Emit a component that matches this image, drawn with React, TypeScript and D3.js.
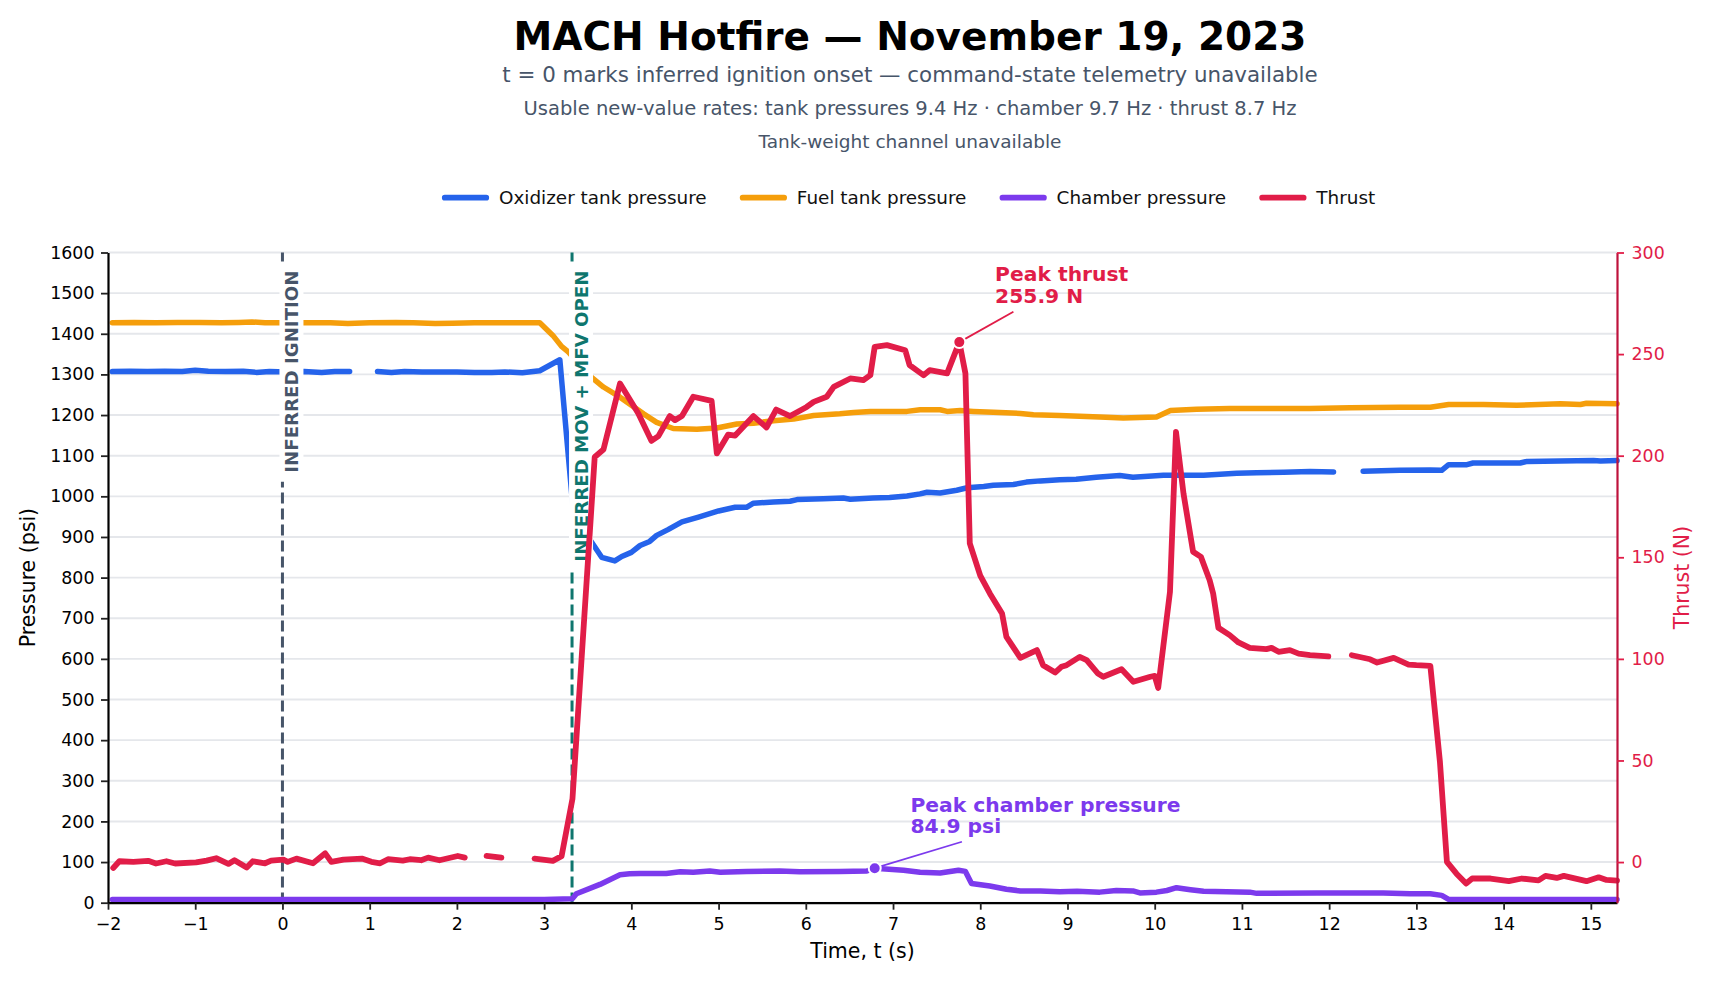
import React, { useEffect, useRef } from "react";
import * as d3 from "d3";

// Oxidizer tank pressure (psi), null = dropped sample
const oxTime = [
  -1.95, -1.75, -1.55, -1.35, -1.15, -1.0, -0.85, -0.65, -0.45, -0.3, -0.15, 0.05, 0.25, 0.45, 0.6, 0.77,
  0.93, 1.09, 1.25, 1.4, 1.6, 1.8, 2.0, 2.2, 2.4, 2.55, 2.75, 2.95, 3.18, 3.36, 3.52, 3.66, 3.81, 3.89,
  4.0, 4.1, 4.21, 4.29, 4.42, 4.58, 4.77, 5.0, 5.19, 5.32, 5.4, 5.63, 5.82, 5.9, 6.2, 6.43, 6.51, 6.77,
  6.96, 7.16, 7.31, 7.39, 7.54, 7.73, 7.85, 8.04, 8.15, 8.38, 8.53, 8.69, 8.91, 9.1, 9.33, 9.6, 9.75,
  10.1, 10.56, 10.94, 11.17, 11.48, 11.78, 12.05, 12.22, 12.39, 12.81, 13.16, 13.29, 13.37, 13.58, 13.65,
  14.19, 14.27, 15.03, 15.11, 15.3,
];
const oxPsi: (number | null)[] = [
  1307, 1308, 1307, 1308, 1307, 1310, 1308, 1307, 1308, 1305, 1307, 1306, 1307, 1305, 1307, 1307,
  null, 1307, 1305, 1307, 1306, 1306, 1306, 1305, 1305, 1306, 1304, 1309, 1336, 900, 895, 850, 841, 852,
  862, 879, 889, 904, 918, 937, 949, 964, 973, 973, 983, 986, 988, 992, 994, 996, 993, 996,
  997, 1001, 1006, 1010, 1008, 1015, 1021, 1024, 1027, 1029, 1035, 1038, 1041, 1042, 1047, 1051, 1047,
  1052, 1052, 1057, 1058, 1059, 1061, 1060, null, 1062, 1064, 1065, 1064, 1078, 1078, 1082,
  1082, 1086, 1088, 1087, 1088,
];

// Fuel tank pressure (psi)
const fuelTime = [
  -1.95, -1.7, -1.45, -1.2, -0.95, -0.7, -0.5, -0.35, -0.2, 0.0, 0.3, 0.55, 0.75, 1.0, 1.3, 1.5, 1.75,
  1.95, 2.2, 2.45, 2.7, 2.95, 3.1, 3.2, 3.28, 3.52, 3.68, 3.87, 3.98, 4.14, 4.29, 4.48, 4.75, 4.98, 5.21,
  5.4, 5.63, 5.86, 6.09, 6.39, 6.55, 6.74, 7.16, 7.31, 7.54, 7.62, 7.77, 7.92, 8.15, 8.46, 8.61, 8.91,
  9.37, 9.64, 10.02, 10.18, 10.48, 10.86, 11.25, 11.78, 12.24, 12.81, 13.16, 13.37, 13.77, 14.15, 14.65,
  14.88, 14.95, 15.3,
];
const fuelPsi = [
  1427, 1428, 1427, 1428, 1428, 1427, 1428, 1429, 1427, 1427, 1427, 1427, 1425, 1427, 1428, 1427, 1425,
  1426, 1427, 1427, 1427, 1427, 1396, 1369, 1355, 1297, 1269, 1244, 1227, 1203, 1182, 1167, 1165, 1168, 1178,
  1180, 1186, 1190, 1199, 1203, 1206, 1209, 1209, 1213, 1213, 1209, 1211, 1209, 1207, 1204, 1201, 1199,
  1195, 1193, 1195, 1211, 1214, 1216, 1216, 1216, 1218, 1219, 1219, 1226, 1226, 1224, 1228,
  1226, 1229, 1228,
];

// Chamber pressure (psi)
const chamberTime = [
  -1.95, -1.5, -1.0, -0.5, 0.0, 0.5, 1.0, 1.5, 2.0, 2.5, 3.0, 3.325, 3.37, 3.64, 3.87, 3.98, 4.1, 4.4,
  4.56, 4.71, 4.9, 5.02, 5.32, 5.7, 5.93, 6.39, 6.7, 6.79, 7.12, 7.31, 7.54, 7.75, 7.83, 7.9, 8.11, 8.3,
  8.46, 8.69, 8.91, 9.11, 9.37, 9.56, 9.75, 9.83, 10.02, 10.14, 10.25, 10.41, 10.56, 11.09, 11.17, 11.86,
  12.62, 12.93, 13.16, 13.29, 13.37, 13.77, 14.76, 15.3,
];
const chamberPsi = [
  8, 8, 8, 8, 8, 8, 8, 8, 8, 8, 8, 10, 22, 45, 69, 71, 72, 72,
  76, 75, 78, 75, 77, 78, 76, 77, 78, 84.9, 80, 75, 73, 80, 77, 47, 41, 33,
  29, 29, 27, 28, 26, 30, 29, 24, 26, 30, 37, 32, 28, 26, 23, 24,
  24, 22, 22, 18, 8, 8, 8, 8,
];

// Thrust (N)
const thrustTime = [
  -1.94, -1.87, -1.71, -1.54, -1.45, -1.33, -1.23, -0.99, -0.87, -0.76, -0.62, -0.55, -0.41, -0.34, -0.2,
  -0.13, 0.01, 0.06, 0.16, 0.35, 0.49, 0.56, 0.7, 0.91, 1.02, 1.12, 1.21, 1.38, 1.46, 1.59, 1.67, 1.8,
  2.01, 2.09, 2.22, 2.34, 2.51, 2.7, 2.89, 3.1, 3.2, 3.325, 3.58, 3.68, 3.87, 4.08, 4.23, 4.31, 4.44, 4.5,
  4.58, 4.71, 4.92, 4.98, 5.11, 5.19, 5.4, 5.55, 5.66, 5.82, 6.01, 6.09, 6.24, 6.32, 6.51, 6.66, 6.74,
  6.79, 6.93, 7.14, 7.19, 7.35, 7.42, 7.62, 7.76, 7.83, 7.88, 8.0, 8.11, 8.25, 8.3, 8.46, 8.65, 8.72,
  8.86, 8.93, 8.99, 9.14, 9.22, 9.35, 9.41, 9.62, 9.755, 9.95, 10.0, 10.04, 10.175, 10.244, 10.33, 10.44,
  10.53, 10.63, 10.67, 10.73, 10.86, 10.96, 11.09, 11.28, 11.34, 11.42, 11.55, 11.65, 11.78, 11.99, 12.12,
  12.26, 12.47, 12.55, 12.74, 12.91, 13.0, 13.16, 13.27, 13.35, 13.46, 13.57, 13.64, 13.85, 14.06, 14.21,
  14.4, 14.48, 14.61, 14.69, 14.95, 15.09, 15.18, 15.3,
];
const thrustN: (number | null)[] = [
  -2.9, 0.4, 0.1, 0.6, -0.7, 0.4, -0.7, -0.2, 0.7, 1.9, -0.9, 0.9, -2.7, 0.4, -0.6,
  0.7, 1.2, 0.1, 1.7, -0.6, 4.3, 0.1, 1.2, 1.7, 0.1, -0.6, 1.4, 0.7, 1.4, 0.9, 2.2, 0.9,
  3.0, 2.2, null, 3.0, 2.2, null, 1.7, 0.6, 2.9, 31.2, 199.4, 203.0, 235.5, 220.8, 207.3, 209.6, 219.5, 217.5,
  219.5, 229.0, 227.0, 201.1, 210.4, 209.9, 219.5, 213.9, 222.7, 219.5, 224.0, 226.5, 229.0, 233.9, 238.0, 237.2, 239.6,
  253.6, 254.4, 251.9, 244.6, 239.6, 242.1, 240.5, 255.9, 240.5, 156.8, 141.0, 132.2, 122.3, 110.8, 100.5, 104.3, 96.9,
  93.3, 96.1, 96.9, 101.0, 99.4, 92.8, 91.2, 94.9, 88.7, 91.2, 91.6, 85.7, 133.0, 211.7, 181.4, 152.7,
  150.2, 138.7, 132.2, 115.3, 111.7, 108.1, 105.4, 104.8, 105.4, 103.5, 104.3, 102.6, 101.8, 101.2, null,
  101.8, 99.8, 98.2, 100.5, 97.2, 96.9, 96.6, 49.3, 0.1, -5.7, -10.6, -8.1, -8.1, -9.4, -8.1,
  -9.0, -6.8, -7.8, -6.8, -9.4, -7.5, -8.8, -9.1,
];

const xTicks = d3.range(-2, 16);
const pressureTicks = d3.range(0, 1601, 100);
const thrustTicks = d3.range(0, 301, 50);

const IGNITION_T = 0;
const VALVES_T = 3.32;

const title = "MACH Hotfire — November 19, 2023";
const subtitles = [
  "t = 0 marks inferred ignition onset — command-state telemetry unavailable",
  "Usable new-value rates: tank pressures 9.4 Hz · chamber 9.7 Hz · thrust 8.7 Hz",
  "Tank-weight channel unavailable",
];

const COLORS = {
  ox: "#2563eb",
  fuel: "#f59e0b",
  chamber: "#7c3aed",
  thrust: "#e11d48",
  ignition: "#475569",
  valves: "#0f766e",
  grid: "#e5e7eb",
};

const FONT = "'DejaVu Sans', Verdana, sans-serif";
const W = 1713;
const H = 982;

export default function App() {
  const svgRef = useRef<SVGSVGElement>(null);

  useEffect(() => {
    if (!svgRef.current) return;
    document.body.style.margin = "0";
    document.body.style.overflow = "hidden";

    const svg = d3.select(svgRef.current);
    svg.selectAll("*").remove();

    const left = 108;
    const right = 1617;
    const top = 252.5;
    const bottom = 902.7;
    const centerX = 910;

    const x = d3.scaleLinear().domain([-2, 15.3]).range([left, right]);
    const yP = d3.scaleLinear().domain([0, 1600]).range([bottom, top]);
    const yT = d3.scaleLinear().domain([-20, 300]).range([bottom, top]);

    // Titles
    svg
      .append("text")
      .attr("x", centerX)
      .attr("y", 50)
      .attr("text-anchor", "middle")
      .attr("font-family", FONT)
      .attr("font-weight", "bold")
      .attr("font-size", 39)
      .attr("fill", "#000")
      .text(title);

    const subSizes = [21.4, 19.55, 18.5];
    const subY = [81.7, 115, 147.7];
    subtitles.forEach((s, i) => {
      svg
        .append("text")
        .attr("x", centerX)
        .attr("y", subY[i])
        .attr("text-anchor", "middle")
        .attr("font-family", FONT)
        .attr("font-size", subSizes[i])
        .attr("fill", "#475569")
        .text(s);
    });

    // Grid
    svg
      .append("g")
      .selectAll("line")
      .data(pressureTicks)
      .enter()
      .append("line")
      .attr("x1", left)
      .attr("x2", right)
      .attr("y1", (d) => yP(d))
      .attr("y2", (d) => yP(d))
      .attr("stroke", COLORS.grid)
      .attr("stroke-width", 1.9);

    // Event lines
    const eventLine = (t: number, color: string) =>
      svg
        .append("line")
        .attr("x1", x(t))
        .attr("x2", x(t))
        .attr("y1", top)
        .attr("y2", bottom)
        .attr("stroke", color)
        .attr("stroke-width", 3)
        .attr("stroke-dasharray", "11,5");
    eventLine(IGNITION_T, COLORS.ignition);
    eventLine(VALVES_T, COLORS.valves);

    const pressureLine = (ts: number[], vs: (number | null)[], color: string) => {
      const pts = ts.map((t, i) => [t, vs[i]] as [number, number | null]);
      const line = d3
        .line<[number, number | null]>()
        .defined((d) => d[1] != null)
        .x((d) => x(d[0]))
        .y((d) => yP(d[1] as number));
      svg
        .append("path")
        .datum(pts)
        .attr("fill", "none")
        .attr("stroke", color)
        .attr("stroke-width", 5.5)
        .attr("stroke-linejoin", "round")
        .attr("stroke-linecap", "round")
        .attr("d", line);
    };

    pressureLine(oxTime, oxPsi, COLORS.ox);
    pressureLine(fuelTime, fuelPsi, COLORS.fuel);
    pressureLine(chamberTime, chamberPsi, COLORS.chamber);

    // Event labels with white box
    const eventLabel = (t: number, label: string, color: string) => {
      const g = svg
        .append("g")
        .attr("transform", `translate(${x(t) + 15.5},${top + 18}) rotate(-90)`);
      const txt = g
        .append("text")
        .attr("text-anchor", "end")
        .attr("font-family", FONT)
        .attr("font-weight", "bold")
        .attr("font-size", 18.2)
        .attr("fill", color)
        .text(label);
      const bb = (txt.node() as SVGTextElement).getBBox();
      g.insert("rect", "text")
        .attr("x", bb.x - 9)
        .attr("y", bb.y - 1.5)
        .attr("width", bb.width + 18)
        .attr("height", bb.height + 3)
        .attr("fill", "#fff");
    };
    eventLabel(IGNITION_T, "INFERRED IGNITION", COLORS.ignition);
    eventLabel(VALVES_T, "INFERRED MOV + MFV OPEN", COLORS.valves);

    // Thrust on right axis
    const thrustPts = thrustTime.map((t, i) => [t, thrustN[i]] as [number, number | null]);
    svg
      .append("path")
      .datum(thrustPts)
      .attr("fill", "none")
      .attr("stroke", COLORS.thrust)
      .attr("stroke-width", 5.8)
      .attr("stroke-linejoin", "round")
      .attr("stroke-linecap", "round")
      .attr(
        "d",
        d3
          .line<[number, number | null]>()
          .defined((d) => d[1] != null)
          .x((d) => x(d[0]))
          .y((d) => yT(d[1] as number))
      );

    // Peak annotations
    const peakThrustIdx = d3.maxIndex(thrustN, (d) => (d == null ? -Infinity : d));
    const peakThrust = [thrustTime[peakThrustIdx], thrustN[peakThrustIdx] as number];
    const peakChamberIdx = d3.maxIndex(chamberPsi);
    const peakChamber = [chamberTime[peakChamberIdx], chamberPsi[peakChamberIdx]];

    const annotate = (
      px: number,
      py: number,
      tx: number,
      ty: number,
      ax: number,
      ay: number,
      lines: string[],
      color: string
    ) => {
      svg
        .append("line")
        .attr("x1", px)
        .attr("y1", py)
        .attr("x2", ax)
        .attr("y2", ay)
        .attr("stroke", color)
        .attr("stroke-width", 1.8);
      svg
        .append("circle")
        .attr("cx", px)
        .attr("cy", py)
        .attr("r", 6)
        .attr("fill", color)
        .attr("stroke", "#fff")
        .attr("stroke-width", 2);
      const txt = svg
        .append("text")
        .attr("x", tx)
        .attr("y", ty)
        .attr("font-family", FONT)
        .attr("font-weight", "bold")
        .attr("font-size", 20.3)
        .attr("fill", color);
      lines.forEach((l, i) =>
        txt
          .append("tspan")
          .attr("x", tx)
          .attr("dy", i === 0 ? 0 : 21.7)
          .text(l)
      );
    };

    annotate(
      x(peakThrust[0]),
      yT(peakThrust[1]),
      x(8.17),
      yT(286),
      x(8.38),
      yT(270.8),
      ["Peak thrust", `${peakThrust[1].toFixed(1)} N`],
      COLORS.thrust
    );
    annotate(
      x(peakChamber[0]),
      yP(peakChamber[1]),
      x(7.2),
      yP(224),
      x(7.79),
      yP(150),
      ["Peak chamber pressure", `${peakChamber[1].toFixed(1)} psi`],
      COLORS.chamber
    );

    // Axes
    const styleAxis = (
      g: d3.Selection<SVGGElement, unknown, null, undefined>,
      spine: string,
      tickColor: string,
      textColor: string
    ) => {
      g.select(".domain").attr("stroke", spine).attr("stroke-width", 2.2);
      g.selectAll(".tick line").attr("stroke", tickColor).attr("stroke-width", 1.8);
      g.selectAll(".tick text")
        .attr("fill", textColor)
        .attr("font-family", FONT)
        .attr("font-size", 17.4);
    };

    const xAxis = svg
      .append("g")
      .attr("transform", `translate(0,${bottom})`)
      .call(
        d3
          .axisBottom(x)
          .tickValues(xTicks)
          .tickFormat(d3.format("d"))
          .tickSize(7)
          .tickSizeOuter(0)
          .tickPadding(7.5)
      );
    styleAxis(xAxis, "#000", "#222", "#000");

    const yAxis = svg
      .append("g")
      .attr("transform", `translate(${left},0)`)
      .call(
        d3
          .axisLeft(yP)
          .tickValues(pressureTicks)
          .tickFormat(d3.format("d"))
          .tickSize(7)
          .tickSizeOuter(0)
          .tickPadding(6.5)
      );
    styleAxis(yAxis, "#000", "#222", "#000");

    const yAxisR = svg
      .append("g")
      .attr("transform", `translate(${right},0)`)
      .call(
        d3
          .axisRight(yT)
          .tickValues(thrustTicks)
          .tickFormat(d3.format("d"))
          .tickSize(7)
          .tickSizeOuter(0)
          .tickPadding(7.5)
      );
    styleAxis(yAxisR, "#be123c", COLORS.thrust, COLORS.thrust);

    // Axis labels
    svg
      .append("text")
      .attr("x", (left + right) / 2)
      .attr("y", 958)
      .attr("text-anchor", "middle")
      .attr("font-family", FONT)
      .attr("font-size", 20.5)
      .attr("fill", "#000")
      .text("Time, t (s)");

    svg
      .append("text")
      .attr("transform", `translate(35,${(top + bottom) / 2}) rotate(-90)`)
      .attr("text-anchor", "middle")
      .attr("font-family", FONT)
      .attr("font-size", 20.5)
      .attr("fill", "#000")
      .text("Pressure (psi)");

    svg
      .append("text")
      .attr("transform", `translate(1689,${(top + bottom) / 2}) rotate(-90)`)
      .attr("text-anchor", "middle")
      .attr("font-family", FONT)
      .attr("font-size", 20.5)
      .attr("fill", COLORS.thrust)
      .text("Thrust (N)");

    // Legend
    const legendItems = [
      { label: "Oxidizer tank pressure", color: COLORS.ox },
      { label: "Fuel tank pressure", color: COLORS.fuel },
      { label: "Chamber pressure", color: COLORS.chamber },
      { label: "Thrust", color: COLORS.thrust },
    ];
    const legend = svg.append("g");
    const handle = 41.5;
    const gap = 12.7;
    const spacing = 36;
    const widths: number[] = [];
    const items = legendItems.map((it) => {
      const g = legend.append("g");
      g.append("line")
        .attr("x1", 0)
        .attr("x2", handle)
        .attr("y1", 197.7)
        .attr("y2", 197.7)
        .attr("stroke", it.color)
        .attr("stroke-width", 5.7)
        .attr("stroke-linecap", "round");
      const t = g
        .append("text")
        .attr("x", handle + gap)
        .attr("y", 204)
        .attr("font-family", FONT)
        .attr("font-size", 18.4)
        .attr("fill", "#111")
        .text(it.label);
      widths.push((t.node() as SVGTextElement).getComputedTextLength());
      return g;
    });
    const total =
      d3.sum(widths) + legendItems.length * (handle + gap) + (legendItems.length - 1) * spacing;
    let cursor = centerX - total / 2;
    items.forEach((g, i) => {
      g.attr("transform", `translate(${cursor},0)`);
      cursor += handle + gap + widths[i] + spacing;
    });
  }, []);

  return (
    <svg
      ref={svgRef}
      width={W}
      height={H}
      style={{ display: "block", background: "#fff" }}
    />
  );
}
